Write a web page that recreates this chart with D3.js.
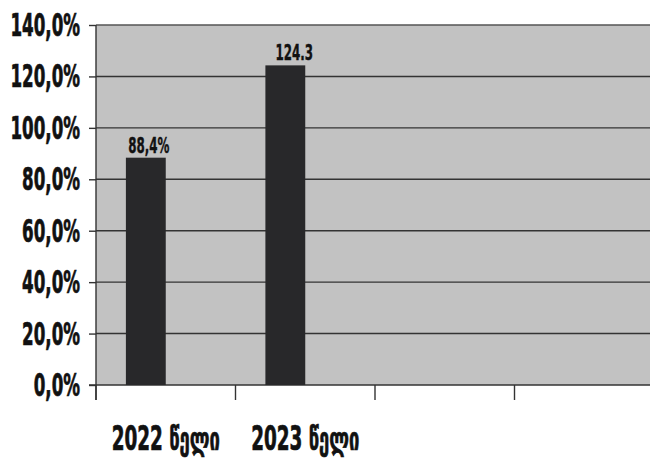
<!DOCTYPE html>
<html>
<head>
<meta charset="utf-8">
<script src="https://cdn.jsdelivr.net/npm/d3@7"></script>
<style>
  html, body { margin: 0; padding: 0; background: #fff; }
  svg { display: block; }
  text { font-family: "DejaVu Sans Condensed", "DejaVu Sans", sans-serif; font-weight: bold; fill: #111; stroke: #111; stroke-width: 0.7; }
</style>
</head>
<body>
<svg id="chart" width="650" height="461"></svg>
<script>
// Categories on the x axis (the last two slots are empty)
const categories = ["2022 წელი", "2023 წელი", "", ""];
// Two series per category; only the first one carries values
const seriesNames = ["s1", "s2"];
const values = [88.4, 124.3, null, null];
const valueLabels = ["88,4%", "124.3", "", ""];
// Y axis ticks, in percent
const yTicks = [0, 20, 40, 60, 80, 100, 120, 140];
const yTickLabels = ["0,0%", "20,0%", "40,0%", "60,0%", "80,0%", "100,0%", "120,0%", "140,0%"];

const W = 650, H = 461;
const margin = { left: 96, right: -4, top: 25, bottom: 76 };
const svg = d3.select("#chart");

const x = d3.scaleBand()
  .domain(categories.map((d, i) => i))
  .range([margin.left, W - margin.right])
  .paddingInner(0).paddingOuter(0);

// Clustered layout: two bars per slot with a 150% gap
const xs = d3.scaleBand()
  .domain(seriesNames)
  .range([0, x.bandwidth()])
  .paddingInner(0)
  .paddingOuter(0.75);

const y = d3.scaleLinear().domain([0, 140]).range([H - margin.bottom, margin.top]);

// Plot area
svg.append("rect")
  .attr("x", margin.left).attr("y", y(140))
  .attr("width", W - margin.left).attr("height", y(0) - y(140))
  .attr("fill", "#c2c2c2");

// Gridlines
svg.append("g").selectAll("line")
  .data(yTicks.filter(t => t > 0))
  .join("line")
  .attr("x1", margin.left).attr("x2", W)
  .attr("y1", d => y(d)).attr("y2", d => y(d))
  .attr("stroke", d => d === 140 ? "#555" : "#333")
  .attr("stroke-width", 1.4);

// Y axis
const yAxis = d3.axisLeft(y).tickValues(yTicks).tickSize(7).tickFormat("");
const gy = svg.append("g").attr("transform", `translate(${margin.left},0)`).call(yAxis);
gy.select(".domain").attr("stroke", "#333").attr("stroke-width", 1.4).attr("d", `M0,${y(140)}V${y(0) + 15}`);
gy.selectAll(".tick line").attr("stroke", "#333").attr("stroke-width", 1.4);

// Y tick labels, condensed
svg.append("g").selectAll("text")
  .data(yTicks)
  .join("text")
  .attr("transform", d => `translate(80,${y(d) + 11}) scale(0.58,1)`)
  .attr("text-anchor", "end")
  .attr("font-size", 32)
  .text((d, i) => yTickLabels[i]);

// X axis
const gx = svg.append("g").attr("transform", `translate(0,${y(0)})`);
gx.append("line").attr("x1", margin.left - 7).attr("x2", W)
  .attr("y1", 0).attr("y2", 0).attr("stroke", "#333").attr("stroke-width", 1.6);
gx.selectAll("line.tk")
  .data(d3.range(categories.length + 1))
  .join("line")
  .attr("class", "tk")
  .attr("x1", i => i < categories.length ? x(i) : x(categories.length - 1) + x.bandwidth())
  .attr("x2", i => i < categories.length ? x(i) : x(categories.length - 1) + x.bandwidth())
  .attr("y1", 0).attr("y2", 15)
  .attr("stroke", "#333").attr("stroke-width", 1.4);

// Category labels
svg.append("g").selectAll("text")
  .data(categories)
  .join("text")
  .attr("transform", (d, i) => `translate(${x(i) + x.bandwidth() / 2},${y(0) + 65}) scale(0.62,1)`)
  .attr("text-anchor", "middle")
  .attr("font-size", 33)
  .text(d => d);

// Bars
const bars = svg.append("g");
bars.selectAll("rect")
  .data(values.map((v, i) => ({ i, v })).filter(d => d.v != null))
  .join("rect")
  .attr("x", d => x(d.i) + xs("s1"))
  .attr("width", xs.bandwidth())
  .attr("y", d => y(d.v))
  .attr("height", d => y(0) - y(d.v))
  .attr("fill", "#28282a");

// Value labels
svg.append("g").selectAll("text")
  .data(values.map((v, i) => ({ i, v })).filter(d => d.v != null))
  .join("text")
  .attr("transform", d => `translate(${x(d.i) + xs("s1") + xs.bandwidth() / 2 + (d.i === 1 ? 9 : 3)},${y(d.v) - 5}) scale(0.6,1)`)
  .attr("text-anchor", "middle")
  .attr("font-size", 22)
  .style("stroke-width", 0.4)
  .text(d => valueLabels[d.i]);
</script>
</body>
</html>
